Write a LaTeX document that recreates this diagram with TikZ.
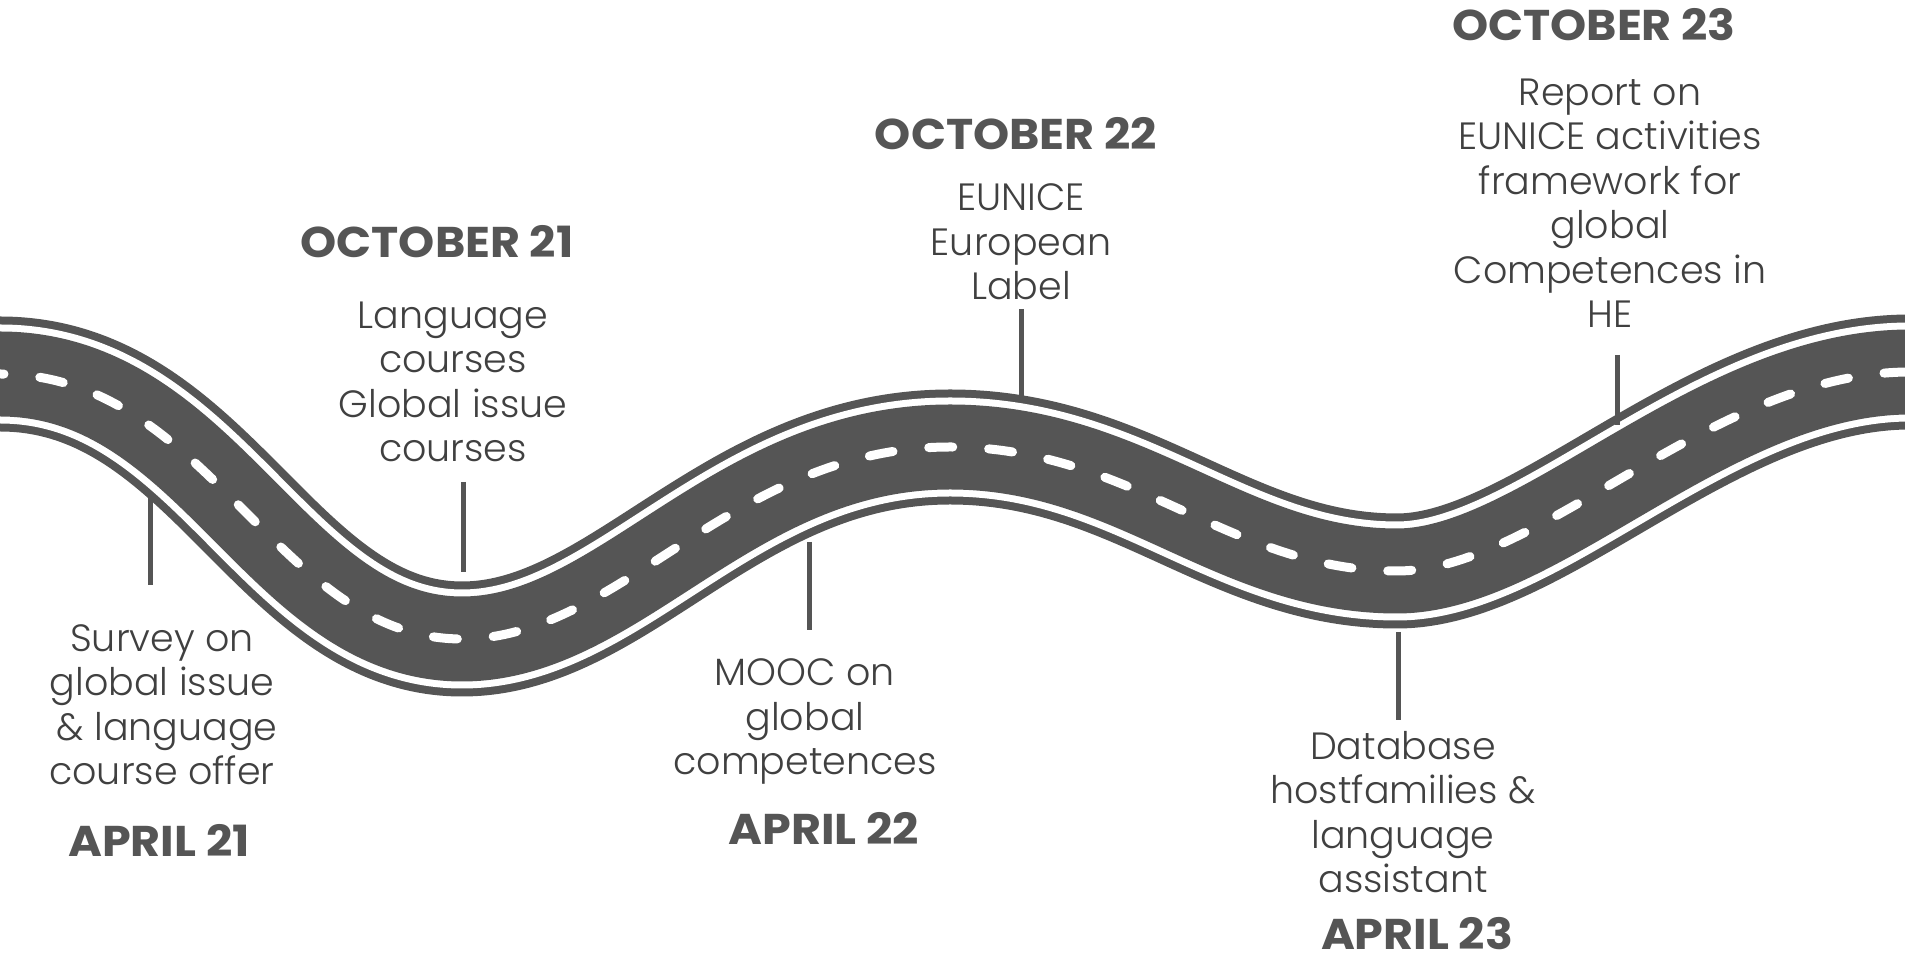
\documentclass[tikz,border=0pt]{standalone}
\usepackage{fontspec}
\setmainfont{Poppins}[UprightFont={* Light},BoldFont={* Bold},BoldFeatures={FakeStretch=1.07}]
\usetikzlibrary{positioning}
\definecolor{roadgray}{HTML}{555555}
\definecolor{txtgray}{HTML}{404040}

\tikzset{
  evtext/.style={text=txtgray, align=center, inner sep=0pt, font=\fontsize{38}{44.5}\selectfont},
  datetext/.style={text=roadgray, inner sep=0pt, font=\bfseries\fontsize{43}{50}\selectfont},
  marker/.style={draw=roadgray, line width=5pt},
}
\newcommand\roadline{(-20,586) -- (0,586) .. controls (210,586) and (276,321) .. (462,321)
  .. controls (620,321) and (732,513) .. (950,513)
  .. controls (1132,513) and (1230,389) .. (1397,389)
  .. controls (1540,389) and (1712,588) .. (1910,588) -- (1930,588)}

\begin{document}
\begin{tikzpicture}[x=1pt,y=1pt]
\useasboundingbox (0,0) rectangle (1905,960);
% road: edge, white stripe, asphalt, centre line
\foreach \w/\c in {115/roadgray,99/white,85/roadgray}
  \draw[line width=\w pt,\c] \roadline;
\draw[white, line width=9pt, line cap=round, dash pattern=on 24pt off 36pt] \roadline;

% markers
\foreach \n/\x/\ya/\yb in {1/150/463/375, 2/463/478/388, 3/809/418/330, 4/1021/651/562, 5/1398/328/240, 6/1617/605/535}
{
  \coordinate (road\n) at (\x,\ya);
  \coordinate (mark\n) at (\x,\yb);
  \draw[marker] (road\n) -- (mark\n);
}

% events (base = last line)
\node[evtext, anchor=base] (survey) at (162,175) {Survey on\\global issue\\\ \& language\\course offer};
\node[evtext, anchor=base] (courses) at (453,498) {Language\\courses\\Global issue\\courses};
\node[evtext, anchor=base] (mooc) at (805,185) {MOOC on\\global\\competences};
\node[evtext, anchor=base] (label) at (1021,660) {EUNICE\\European\\Label};
\node[evtext, anchor=base] (hosts) at (1403,67) {Database\\hostfamilies \&\\language\\assistant};
\node[evtext, anchor=base] (report) at (1610,632) {Report on\\EUNICE activities\\framework for\\global\\Competences in\\HE};

% dates
\node[datetext, anchor=base] (apr21) at (159,103) {APRIL 21};
\node[datetext, anchor=base] (oct21) at (437,702) {OCTOBER 21};
\node[datetext, anchor=base] (apr22) at (824,115) {APRIL 22};
\node[datetext, anchor=base] (oct22) at (1016,810) {OCTOBER 22};
\node[datetext, anchor=base] (apr23) at (1417,10) {APRIL 23};
\node[datetext, anchor=base] (oct23) at (1594,919) {OCTOBER 23};
\end{tikzpicture}
\end{document}
